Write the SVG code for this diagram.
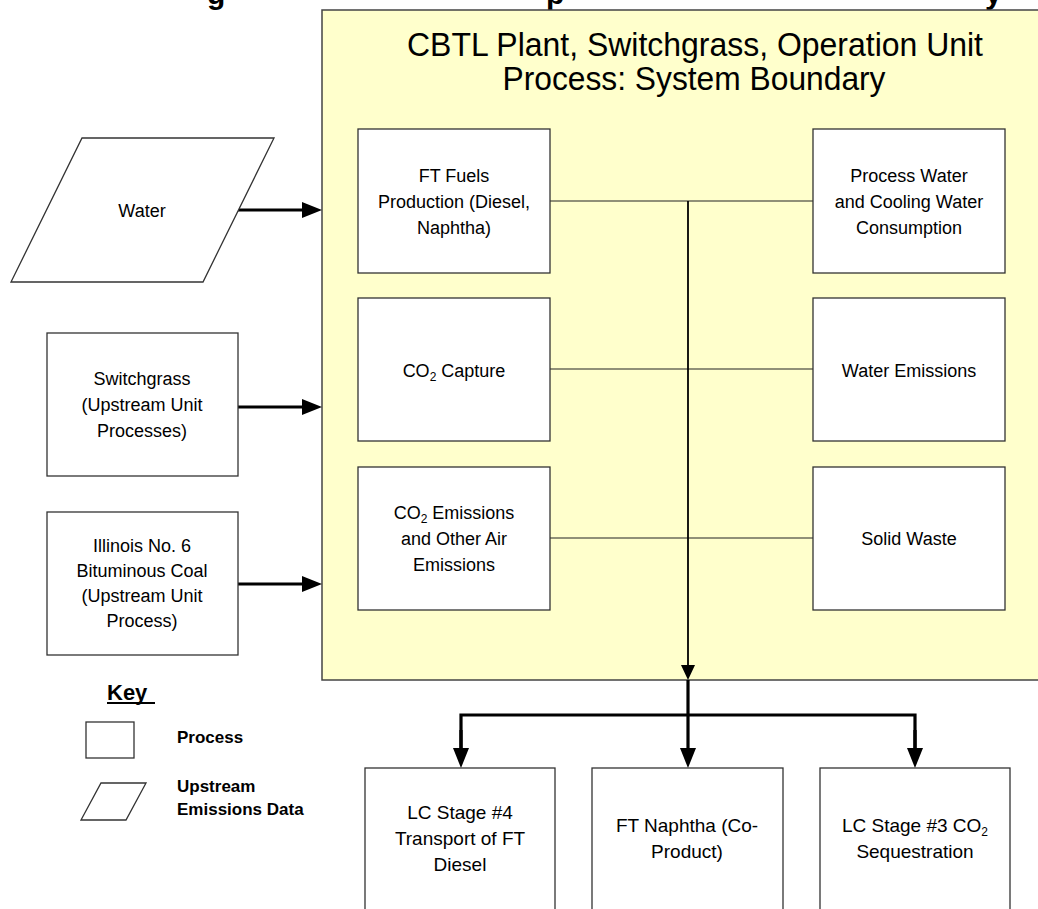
<svg xmlns="http://www.w3.org/2000/svg" width="1038" height="909" viewBox="0 0 1038 909">
<style>
.t{font-family:"Liberation Sans",Arial,sans-serif;font-size:18px;fill:#000;text-anchor:middle}
.tn{font-family:"Liberation Sans",Arial,sans-serif;font-size:19px;fill:#000;text-anchor:middle}
.b{font-family:"Liberation Sans",Arial,sans-serif;font-weight:bold;fill:#000}
.box{fill:#fff;stroke:#333;stroke-width:1.3}
.thin{stroke:#222;stroke-width:1.2;fill:none}
.thick{stroke:#000;stroke-width:3.2;fill:none}
.sub{font-size:12px}
</style>
<defs>
<marker id="ah" markerUnits="userSpaceOnUse" markerWidth="22" markerHeight="20" refX="0" refY="9" orient="auto">
<path d="M0,1 L20,9 L0,17 z" fill="#000"/>
</marker>
<marker id="ahs" markerUnits="userSpaceOnUse" markerWidth="16" markerHeight="16" refX="0" refY="7" orient="auto">
<path d="M0,0 L15,7 L0,14 z" fill="#000"/>
</marker>
</defs>
<rect width="1038" height="909" fill="#fff"/>
<g id="title-fragments" class="b" font-size="30">
<text x="207" y="4">g</text>
<text x="546" y="4">p</text>
<text x="985" y="4">y</text>
</g>
<g id="boundary">
<rect x="322" y="10" width="730" height="670" fill="#FFFFCC" stroke="#444" stroke-width="1.5"/>
<text class="t" x="695" y="56" style="font-size:33px" textLength="576" lengthAdjust="spacingAndGlyphs">CBTL Plant, Switchgrass, Operation Unit</text>
<text class="t" x="694" y="90" style="font-size:33px" textLength="383" lengthAdjust="spacingAndGlyphs">Process: System Boundary</text>
</g>
<g id="connectors">
<line class="thin" x1="550" y1="201" x2="813" y2="201"/>
<line class="thin" x1="550" y1="369" x2="813" y2="369"/>
<line class="thin" x1="550" y1="538" x2="813" y2="538"/>
<line x1="688" y1="201" x2="688" y2="665" stroke="#000" stroke-width="1.8" marker-end="url(#ahs)"/>
<line class="thick" x1="688" y1="680" x2="688" y2="748" marker-end="url(#ah)"/>
<polyline class="thick" points="461,748 461,715 915,715 915,748"/>
<line class="thick" x1="461" y1="730" x2="461" y2="748" marker-end="url(#ah)"/>
<line class="thick" x1="915" y1="730" x2="915" y2="748" marker-end="url(#ah)"/>
<line class="thick" x1="237" y1="210" x2="302" y2="210" marker-end="url(#ah)"/>
<line class="thick" x1="238" y1="407" x2="302" y2="407" marker-end="url(#ah)"/>
<line class="thick" x1="238" y1="584" x2="302" y2="584" marker-end="url(#ah)"/>
</g>
<g id="water">
<polygon class="box" points="82,138 274,138 203,282 11,282"/>
<text class="t" x="142" y="217">Water</text>
</g>
<g id="switchgrass">
<rect class="box" x="47" y="333" width="191" height="143"/>
<text class="t" x="142" y="385">Switchgrass</text>
<text class="t" x="142" y="411">(Upstream Unit</text>
<text class="t" x="142" y="437">Processes)</text>
</g>
<g id="coal">
<rect class="box" x="47" y="512" width="191" height="143"/>
<text class="t" x="142" y="552">Illinois No. 6</text>
<text class="t" x="142" y="577">Bituminous Coal</text>
<text class="t" x="142" y="602">(Upstream Unit</text>
<text class="t" x="142" y="627">Process)</text>
</g>
<g id="ft-fuels">
<rect class="box" x="358" y="129" width="192" height="144"/>
<text class="t" x="454" y="182">FT Fuels</text>
<text class="t" x="454" y="208">Production (Diesel,</text>
<text class="t" x="454" y="234">Naphtha)</text>
</g>
<g id="co2-capture">
<rect class="box" x="358" y="298" width="192" height="143"/>
<text class="t" x="454" y="377">CO<tspan class="sub" dy="4">2</tspan><tspan dy="-4"> Capture</tspan></text>
</g>
<g id="co2-emissions">
<rect class="box" x="358" y="467" width="192" height="143"/>
<text class="t" x="454" y="519">CO<tspan class="sub" dy="4">2</tspan><tspan dy="-4"> Emissions</tspan></text>
<text class="t" x="454" y="545">and Other Air</text>
<text class="t" x="454" y="571">Emissions</text>
</g>
<g id="process-water">
<rect class="box" x="813" y="129" width="192" height="144"/>
<text class="t" x="909" y="182">Process Water</text>
<text class="t" x="909" y="208">and Cooling Water</text>
<text class="t" x="909" y="234">Consumption</text>
</g>
<g id="water-emissions">
<rect class="box" x="813" y="298" width="192" height="143"/>
<text class="t" x="909" y="377">Water Emissions</text>
</g>
<g id="solid-waste">
<rect class="box" x="813" y="467" width="192" height="143"/>
<text class="t" x="909" y="545">Solid Waste</text>
</g>
<g id="lc4">
<rect class="box" x="365" y="768" width="190" height="160"/>
<text class="tn" x="460" y="819">LC Stage #4</text>
<text class="tn" x="460" y="845">Transport of FT</text>
<text class="tn" x="460" y="871">Diesel</text>
</g>
<g id="naphtha">
<rect class="box" x="592" y="768" width="191" height="160"/>
<text class="tn" x="687" y="832">FT Naphtha (Co-</text>
<text class="tn" x="687" y="858">Product)</text>
</g>
<g id="lc3">
<rect class="box" x="820" y="768" width="190" height="160"/>
<text class="tn" x="915" y="832">LC Stage #3 CO<tspan class="sub" dy="4">2</tspan></text>
<text class="tn" x="915" y="858">Sequestration</text>
</g>
<g id="key">
<text class="b" x="107" y="700" font-size="22">Key</text>
<line x1="107" y1="703" x2="155" y2="703" stroke="#000" stroke-width="2"/>
<rect class="box" x="86" y="722" width="48" height="36"/>
<text class="b" x="177" y="743" font-size="17">Process</text>
<polygon class="box" points="101,783 146,783 126,820 81,820"/>
<text class="b" x="177" y="792" font-size="17">Upstream</text>
<text class="b" x="177" y="815" font-size="17">Emissions Data</text>
</g>
</svg>
